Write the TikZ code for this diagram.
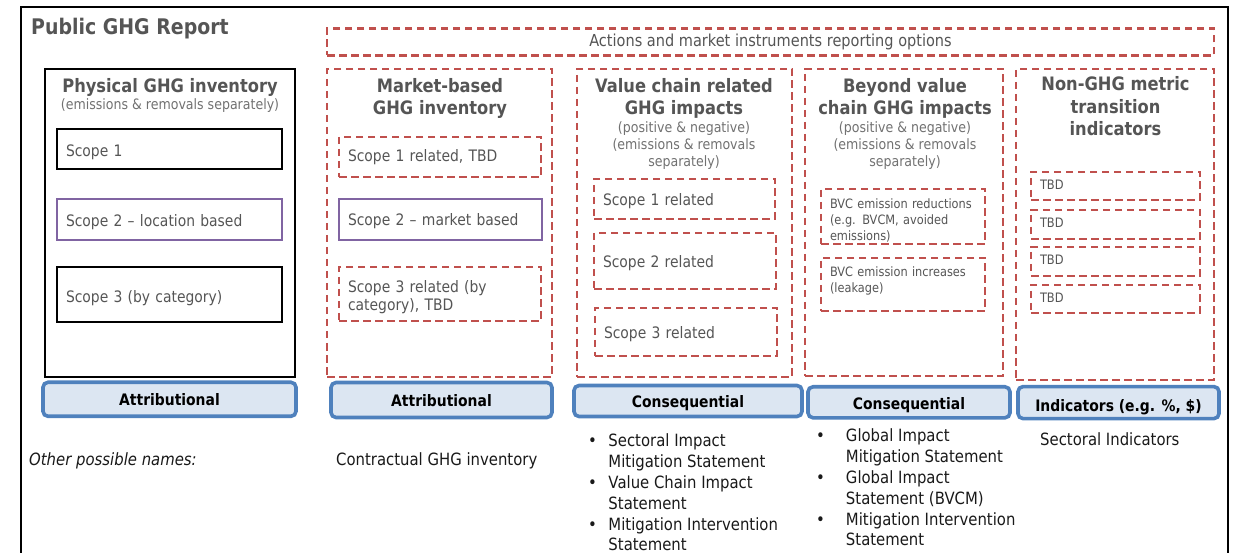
\documentclass[tikz,border=0pt]{standalone}
\usepackage{fontspec}
\setmainfont{DejaVu Sans}[FakeStretch=0.88]
\usetikzlibrary{positioning}
\definecolor{ghgred}{HTML}{C0504D}
\definecolor{ghgpurple}{HTML}{8064A2}
\definecolor{ghgblue}{HTML}{4F81BD}
\definecolor{ghgfill}{HTML}{DCE6F2}
\definecolor{ghgtext}{HTML}{555555}
\definecolor{ghgsub}{HTML}{717171}

\begin{document}
\begin{tikzpicture}[x=1pt, y=-1pt,
		redbox/.style={draw=ghgred, line width=2.5pt, dash pattern=on 7.5pt off 4.5pt},
		blackbox/.style={draw, line width=2.6pt},
		purplebox/.style={draw=ghgpurple, line width=2pt},
		sbox/.style 2 args={text width=#1, minimum height=#2, align=left, inner xsep=9pt, inner ysep=0pt, text height=16pt, text=ghgtext, font=\fontsize{15.8}{18}\selectfont},
		method/.style={draw=ghgblue, fill=ghgfill, line width=3.6pt, rounded corners=5pt, inner sep=0pt, text height=13pt, text depth=0pt, font=\fontsize{15.8}{19}\selectfont\bfseries},
		hdr/.style={align=center, text=ghgtext, inner sep=0pt, font=\fontsize{18.5}{22.6}\selectfont\bfseries},
		sub/.style={align=center, text=ghgsub, inner sep=0pt, font=\fontsize{14.3}{17}\selectfont},
		plain/.style={inner sep=0pt, text=black!90, font=\fontsize{16.9}{20.8}\selectfont}]
		\useasboundingbox (0,0) rectangle (1235,553);
		\node[draw, line width=2.2pt, minimum width=1207, minimum height=568, inner sep=0pt] (report) at (624.5,291) {};
		\node[anchor=west, inner sep=0pt, text=ghgtext, font=\fontsize{21.5}{25}\selectfont\bfseries] (title) at (31,28.5) {Public GHG Report};
		\node[redbox, minimum width=887, minimum height=27, inner sep=0pt, text=ghgtext, font=\fontsize{16.5}{19}\selectfont] (actions) at (770.5,42) {Actions and market instruments reporting options};
		
		\node[draw, line width=2.2pt, minimum width=250, minimum height=308] (phys) at (170,223) {};
		\node[hdr] (physhdr) at (170,87) {Physical GHG inventory};
		\node[sub, below=2pt of physhdr] (physsub) {(emissions \& removals separately)};
		\node[blackbox, sbox={207}{40}, text height=17.5pt] (phys1) at (169.5,149) {Scope 1};
		\node[purplebox, sbox={207}{41}, text height=17.5pt] (phys2) at (169.5,219.5) {Scope 2 – location based};
		\node[blackbox, sbox={207}{55}, text height=20pt] (phys3) at (169.5,294.5) {Scope 3 (by category)};
		\node[method, minimum width=253, minimum height=34, text height=11.5pt] (phystype) at (169.5,399.3) {Attributional};
		
		\node[redbox, minimum width=225, minimum height=308] (market) at (439.5,223) {};
		\node[hdr] (markethdr) at (440,98.4) {Market-based\\GHG inventory};
		\node[redbox, sbox={184}{40}, text height=13pt] (market1) at (440,157) {Scope 1 related, TBD};
		\node[purplebox, sbox={185}{41}] (market2) at (440.5,219.5) {Scope 2 – market based};
		\node[redbox, sbox={184}{54}, text height=18.7pt] (market3) at (440,294) {Scope 3 related (by\\category), TBD};
		\node[method, minimum width=221, minimum height=35] (markettype) at (441.5,400) {Attributional};
		
		\node[redbox, minimum width=215, minimum height=308] (value) at (684.5,223) {};
		\node[hdr] (valuehdr) at (684,98.2) {Value chain related\\GHG impacts};
		\node[sub] (valuesub) at (684,145.7) {(positive \& negative)\\(emissions \& removals\\separately)};
		\node[redbox, sbox={163}{40}, text height=15.3pt] (value1) at (684.5,199) {Scope 1 related};
		\node[redbox, sbox={164}{56}, text height=15.3pt] (value2) at (685,261) {Scope 2 related};
		\node[redbox, sbox={164}{48}, text height=15.3pt] (value3) at (686,332) {Scope 3 related};
		\node[method, minimum width=228, minimum height=31] (valuetype) at (688,401) {Consequential};
		
		\node[redbox, minimum width=198, minimum height=307] (beyond) at (904,222.5) {};
		\node[hdr] (beyondhdr) at (905,98.2) {Beyond value\\chain GHG impacts};
		\node[sub] (beyondsub) at (905,145.7) {(positive \& negative)\\(emissions \& removals\\separately)};
		\node[redbox, sbox={146}{55}, text height=18.3pt, font=\fontsize{12.9}{16}\selectfont] (bvcdown) at (903,216.5) {BVC emission reductions\\(e.g. BVCM, avoided\\emissions)};
		\node[redbox, sbox={146}{53}, text height=1.7pt, font=\fontsize{12.9}{16}\selectfont] (bvcup) at (903,284.5) {BVC emission increases\\(leakage)};
		\node[method, minimum width=202, minimum height=31, text height=14pt] (beyondtype) at (909,402.3) {Consequential};
		
		\node[redbox, minimum width=198, minimum height=311] (nonghg) at (1115,224.5) {};
		\node[hdr, font=\fontsize{18.5}{22.2}\selectfont\bfseries] (nonghghdr) at (1115.5,106.2) {Non-GHG metric\\transition\\indicators};
		\node[redbox, sbox={151}{28}, text height=7pt, font=\fontsize{13}{16}\selectfont] (tbd1) at (1115.5,186) {TBD};
		\node[redbox, sbox={151}{29}, text height=7pt, font=\fontsize{13}{16}\selectfont] (tbd2) at (1115.5,224.5) {TBD};
		\node[redbox, sbox={151}{29}, text height=7pt, font=\fontsize{13}{16}\selectfont] (tbd3) at (1115.5,261.5) {TBD};
		\node[redbox, sbox={151}{28}, text height=7pt, font=\fontsize{13}{16}\selectfont] (tbd4) at (1115.5,299) {TBD};
		\node[method, minimum width=201, minimum height=32, text height=18pt] (nonghgtype) at (1118.5,402.6) {Indicators (e.g. \%, \$)};
		
		\node[plain, anchor=west, font=\fontsize{16.9}{20.8}\selectfont\itshape] (othernames) at (29,461) {Other possible names:};
		\node[plain, anchor=west] (marketname) at (336,461) {Contractual GHG inventory};
		\node[plain, anchor=north west] (valuenames) at (588,432.1) {\begin{tabular}{@{}l@{\hspace{11.5pt}}l@{}}\textbullet&Sectoral Impact\\&Mitigation Statement\\\textbullet&Value Chain Impact\\&Statement\\\textbullet&Mitigation Intervention\\&Statement\end{tabular}};
		\node[plain, anchor=north west] (beyondnames) at (816,427.1) {\begin{tabular}{@{}l@{\hspace{21pt}}l@{}}\textbullet&Global Impact\\&Mitigation Statement\\\textbullet&Global Impact\\&Statement (BVCM)\\\textbullet&Mitigation Intervention\\&Statement\end{tabular}};
		\node[plain, anchor=west] (nonghgname) at (1040,439) {Sectoral Indicators};
\end{tikzpicture}
\end{document}
